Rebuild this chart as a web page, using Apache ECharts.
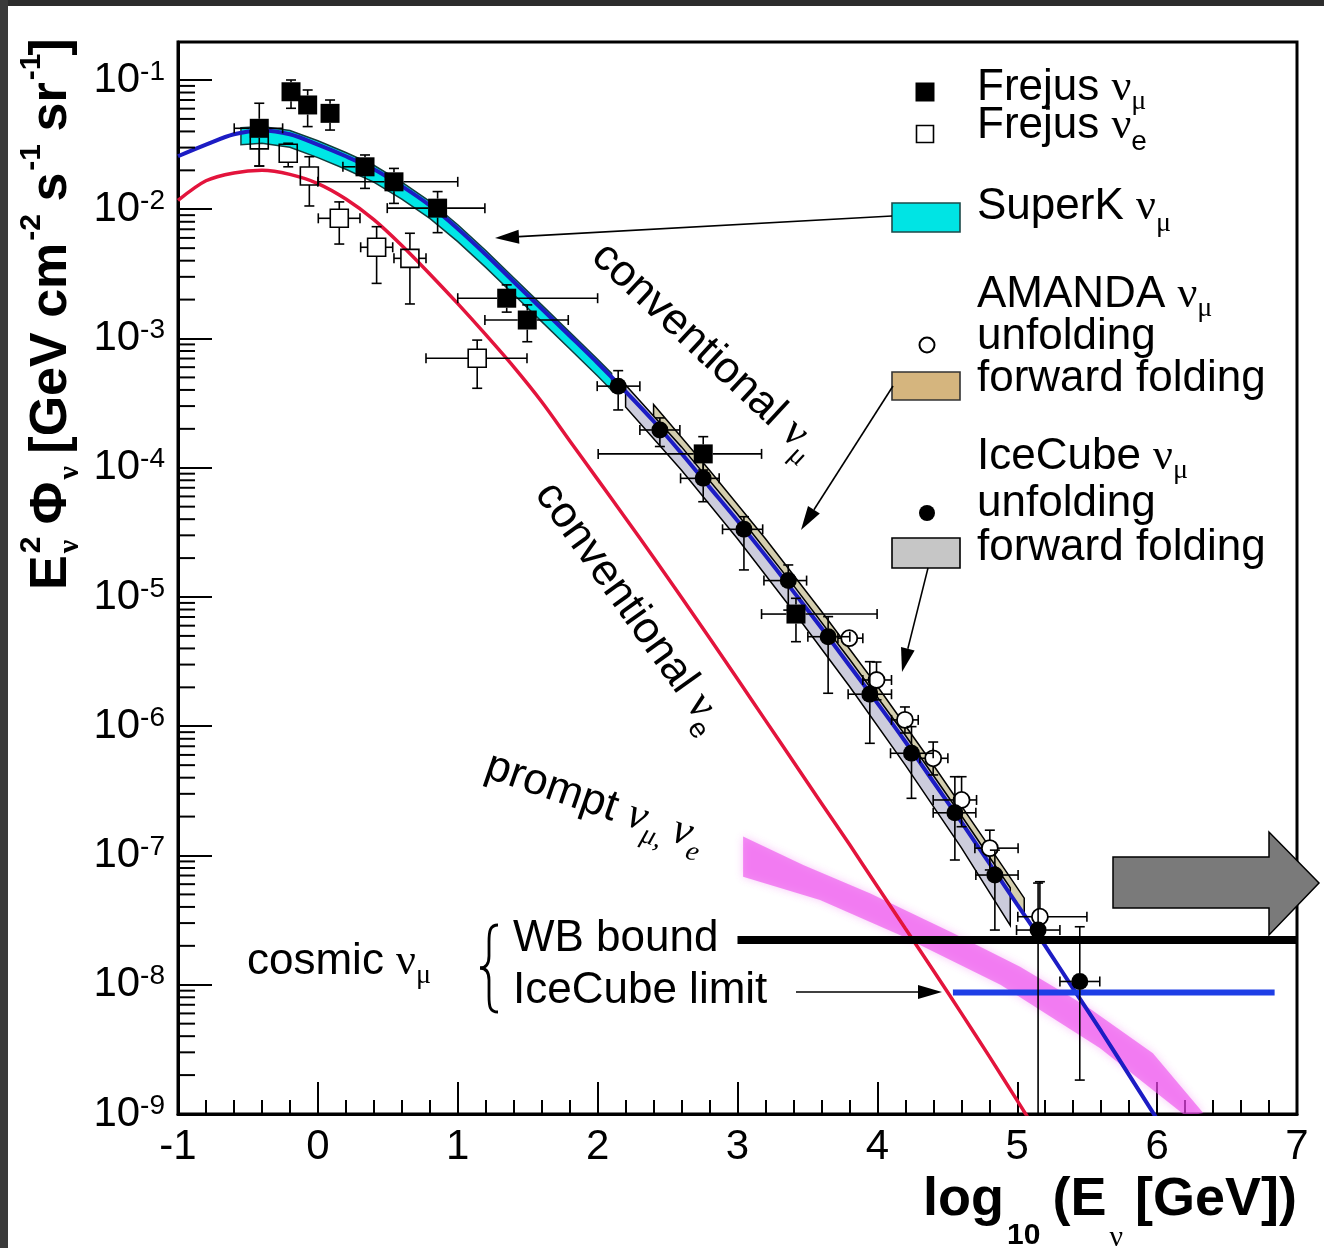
<!DOCTYPE html>
<html><head><meta charset="utf-8">
<script src="https://cdn.jsdelivr.net/npm/echarts@6/dist/echarts.min.js"></script>
<style>html,body{margin:0;padding:0;background:#fff}#c{width:1324px;height:1248px}</style>
</head><body><div id="c"></div>
<script>
// ================= DATA =================
// x = log10(E / GeV), flux = E^2 Phi [GeV cm^-2 s^-1 sr^-1]
const xTickValues = [-1, 0, 1, 2, 3, 4, 5, 6, 7];
const yTickExponents = [-9, -8, -7, -6, -5, -4, -3, -2, -1];

// conventional nu_mu (blue curve)
const convNumuX = [-1,-0.8,-0.6,-0.4,-0.2,0,0.2,0.4,0.6,0.8,1.0,1.2,1.4,1.6,1.8,2.0,2.2,2.4,2.6,2.8,3.0,3.2,3.4,3.6,3.8,4.0,4.2,4.4,4.6,4.8,5.0,5.2,5.4,5.6,5.8,6.0];
const convNumuFlux = [2.57e-2,3.16e-2,3.80e-2,4.07e-2,3.80e-2,3.16e-2,2.57e-2,2.04e-2,1.51e-2,1.07e-2,7.08e-3,4.47e-3,2.75e-3,1.70e-3,1.05e-3,6.46e-4,3.89e-4,2.29e-4,1.29e-4,7.08e-5,3.89e-5,2.09e-5,1.10e-5,5.75e-6,2.95e-6,1.51e-6,7.59e-7,3.72e-7,1.82e-7,8.71e-8,4.17e-8,2.00e-8,9.33e-9,4.37e-9,2.00e-9,9.12e-10];

// conventional nu_e (red curve)
const convNueX = [-1,-0.8,-0.6,-0.4,-0.2,0,0.2,0.4,0.6,0.8,1.0,1.2,1.4,1.6,1.8,2.0,2.2,2.4,2.6,2.8,3.0,3.2,3.4,3.6,3.8,4.0,4.2,4.4,4.6,4.8,5.0,5.2];
const convNueFlux = [1.17e-2,1.66e-2,1.91e-2,2.00e-2,1.86e-2,1.58e-2,1.20e-2,8.32e-3,5.25e-3,3.16e-3,1.86e-3,1.07e-3,6.03e-4,3.24e-4,1.62e-4,8.13e-5,4.07e-5,2.02e-5,9.89e-6,4.81e-6,2.32e-6,1.11e-6,5.31e-7,2.54e-7,1.22e-7,5.75e-8,2.72e-8,1.29e-8,6.03e-9,2.79e-9,1.27e-9,5.75e-10];

// SuperK nu_mu band
const superKX = [-0.55,-0.4,-0.2,0,0.2,0.4,0.6,0.8,1.0,1.2,1.4,1.6,1.8,2.0,2.1];
const superKHigh = [4.27e-2,4.37e-2,4.07e-2,3.39e-2,2.75e-2,2.19e-2,1.62e-2,1.15e-2,7.59e-3,4.79e-3,2.95e-3,1.82e-3,1.12e-3,6.92e-4,5.37e-4];
const superKLow  = [3.16e-2,3.24e-2,3.02e-2,2.51e-2,2.04e-2,1.62e-2,1.20e-2,8.51e-3,5.62e-3,3.55e-3,2.19e-3,1.35e-3,8.32e-4,5.13e-4,3.98e-4];

// AMANDA forward folding band
const amandaFFX = [2.4,2.8,3.2,3.6,4.0,4.4,4.8,5.05];
const amandaFFHigh = [3.09e-4,9.55e-5,2.82e-5,7.76e-6,2.04e-6,5.01e-7,1.17e-7,4.68e-8];
const amandaFFLow  = [2.29e-4,7.08e-5,2.09e-5,5.75e-6,1.51e-6,3.72e-7,8.71e-8,3.47e-8];

// IceCube forward folding band
const icecubeFFX = [2.2,2.6,3.0,3.4,3.8,4.2,4.6,4.95];
const icecubeFFHigh = [4.37e-4,1.45e-4,4.37e-5,1.23e-5,3.31e-6,8.51e-7,2.04e-7,5.62e-8];
const icecubeFFLow  = [2.95e-4,9.55e-5,2.82e-5,7.76e-6,2.04e-6,5.01e-7,1.15e-7,2.88e-8];

// prompt nu_mu, nu_e band
const promptHighX = [3.04,3.47,3.95,4.54,5.02,5.50,5.97,6.33];
const promptHighFlux = [1.40e-7,8.43e-8,5.09e-8,2.51e-8,1.38e-8,6.76e-9,2.95e-9,1.02e-9];
const promptLowX = [3.04,3.59,4.16,4.88,5.59,6.21];
const promptLowFlux = [6.86e-8,4.53e-8,2.43e-8,1.00e-8,3.24e-9,9.55e-10];

// cosmic nu_mu: WB bound and IceCube limit
const wbBoundX = [3.0, 7.0];
const wbBoundFlux = [2.22e-8, 2.22e-8];
const icLimitX = [4.54, 6.84];
const icLimitFlux = [8.7e-9, 8.7e-9];

// data points: [x, flux, xLow, xHigh, fluxLow, fluxHigh]
const frejusNumu = [
  [-0.419,4.23e-2,-0.598,-0.252,2.16e-2,6.61e-2],
  [-0.192,8.11e-2,-0.192,-0.192,6.04e-2,1.00e-1],
  [-0.073,6.41e-2,-0.073,-0.073,4.36e-2,8.37e-2],
  [0.087,5.52e-2,0.087,0.087,4.10e-2,7.00e-2],
  [0.337,2.13e-2,0.179,0.372,1.45e-2,2.63e-2],
  [0.544,1.63e-2,0.0,1.0,1.11e-2,2.07e-2],
  [0.856,1.02e-2,0.496,1.194,6.59e-3,1.37e-2],
  [1.350,2.05e-3,1.0,2.0,1.60e-3,2.60e-3],
  [1.497,1.39e-3,1.194,1.790,9.44e-4,1.82e-3],
  [2.755,1.28e-4,2.004,3.172,9.60e-5,1.74e-4],
  [3.418,7.38e-6,3.172,3.998,4.51e-6,9.77e-6]
];
const frejusNue = [
  [-0.419,3.44e-2,-0.419,-0.419,2.16e-2,4.26e-2],
  [-0.212,2.71e-2,-0.212,-0.212,2.13e-2,3.24e-2],
  [-0.061,1.81e-2,-0.061,-0.061,1.06e-2,2.55e-2],
  [0.153,8.51e-3,0.003,0.301,5.38e-3,1.14e-2],
  [0.420,5.08e-3,0.306,0.535,2.67e-3,7.33e-3],
  [0.658,4.17e-3,0.544,0.773,1.85e-3,6.52e-3],
  [1.139,7.03e-4,0.773,1.495,4.12e-4,9.72e-4]
];
const icecubeUnfolding = [
  [2.147,4.28e-4,1.997,2.302,2.80e-4,5.64e-4],
  [2.445,1.96e-4,2.302,2.588,1.46e-4,2.43e-4],
  [2.755,8.28e-5,2.593,2.869,5.46e-5,1.11e-4],
  [3.046,3.34e-5,2.893,3.180,1.62e-5,4.18e-5],
  [3.363,1.34e-5,3.189,3.494,7.92e-6,1.77e-5],
  [3.648,4.93e-6,3.503,3.803,1.80e-6,7.05e-6],
  [3.946,1.77e-6,3.791,4.101,7.38e-7,3.16e-6],
  [4.244,6.18e-7,4.094,4.399,2.77e-7,9.93e-7],
  [4.554,2.14e-7,4.399,4.704,9.23e-8,4.07e-7],
  [4.840,7.06e-8,4.704,5.006,2.65e-8,1.10e-7],
  [5.149,2.65e-8,4.995,5.305,1e-10,6.12e-8],
  [5.447,1.06e-8,5.305,5.590,1.83e-9,2.81e-8]
];
const amandaUnfolding = [
  [3.799,4.80e-6,3.718,3.896,4.18e-6,5.56e-6],
  [3.994,2.28e-6,3.896,4.101,1.60e-6,3.14e-6],
  [4.197,1.12e-6,4.101,4.292,8.87e-7,1.41e-6],
  [4.399,5.65e-7,4.304,4.504,4.20e-7,7.55e-7],
  [4.602,2.69e-7,4.399,4.709,1.67e-7,4.07e-7],
  [4.804,1.14e-7,4.697,5.006,7.73e-8,1.57e-7],
  [5.162,3.36e-8,5.004,5.498,2.65e-8,6.27e-8]
];

// ================= RENDERING =================
const SANS = "'Liberation Sans', Arial, Helvetica, sans-serif";
const SERIF = "'Liberation Serif', 'Times New Roman', serif";
const lg = Math.log10;
const Y_MIN = -9, Y_MAX = -0.706;

const chart = echarts.init(document.getElementById('c'), null, {renderer: 'canvas'});

function pairs(xs, ys) { return xs.map((x, i) => [x, lg(ys[i])]); }

function bandSeries(name, xh, yh, xl, yl, style, z) {
  return {
    type: 'custom', name, clip: true, silent: true, z,
    data: [[0, -5]],
    renderItem: (params, api) => {
      const pts = [];
      xh.forEach((x, i) => pts.push(api.coord([x, lg(yh[i])])));
      for (let i = xl.length - 1; i >= 0; i--) pts.push(api.coord([xl[i], lg(yl[i])]));
      return {type: 'polygon', shape: {points: pts}, style};
    }
  };
}

const markers = {
  fsq: {half: 9.5, shape: c => ({type: 'rect', shape: {x: c[0]-9.5, y: c[1]-9.5, width: 19, height: 19}, style: {fill: '#000'}})},
  osq: {half: 9, shape: c => ({type: 'rect', shape: {x: c[0]-9, y: c[1]-9, width: 18, height: 18}, style: {fill: 'none', stroke: '#000', lineWidth: 1.6}})},
  fci: {half: 8, shape: c => ({type: 'circle', shape: {cx: c[0], cy: c[1], r: 8.5}, style: {fill: '#000'}})},
  oci: {half: 8, shape: c => ({type: 'circle', shape: {cx: c[0], cy: c[1], r: 8}, style: {fill: '#fff', stroke: '#000', lineWidth: 1.8}})}
};

function pointSeries(name, rows, mk, z) {
  const m = markers[mk];
  return {
    type: 'custom', name, clip: true, silent: true, z,
    dimensions: ['x', 'y', 'xl', 'xh', 'yl', 'yh'],
    encode: {x: 'x', y: 'y'},
    data: rows.map(r => [r[0], lg(r[1]), r[2], r[3], lg(r[4]), lg(r[5])]),
    renderItem: (params, api) => {
      const x = api.value(0), y = api.value(1);
      const c = api.coord([x, y]);
      const l = api.coord([api.value(2), y]), h = api.coord([api.value(3), y]);
      const b = api.coord([x, api.value(4)]), t = api.coord([x, api.value(5)]);
      const half = m.half, cap = 5;
      const st = {stroke: '#000', lineWidth: 1.6};
      const ch = [];
      const seg = (x1, y1, x2, y2) => ch.push({type: 'line', shape: {x1, y1, x2, y2}, style: st});
      if (c[0] - l[0] > half + 1) { seg(l[0], c[1], c[0] - half, c[1]); seg(l[0], c[1] - cap, l[0], c[1] + cap); }
      if (h[0] - c[0] > half + 1) { seg(c[0] + half, c[1], h[0], c[1]); seg(h[0], c[1] - cap, h[0], c[1] + cap); }
      if (c[1] - t[1] > half + 1) { seg(c[0], t[1], c[0], c[1] - half); seg(c[0] - cap, t[1], c[0] + cap, t[1]); }
      if (b[1] - c[1] > half + 1) { seg(c[0], c[1] + half, c[0], b[1]); seg(c[0] - cap, b[1], c[0] + cap, b[1]); }
      ch.push(m.shape(c));
      return {type: 'group', children: ch};
    }
  };
}

// minor ticks of the logarithmic y axis (2..9 x 10^n)
const yMinor = [];
yTickExponents.forEach(n => { for (let k = 2; k <= 9; k++) { const v = lg(k) + n; if (v < Y_MAX) yMinor.push([-1, v]); } });

// ---------- text helpers ----------
const mctx = document.createElement('canvas').getContext('2d');
function fontStr(p) { return `${p.it ? 'italic' : 'normal'} ${p.b ? 'bold' : 'normal'} ${p.s}px ${p.f || SANS}`; }
function tw(t, f) { mctx.font = f; return mctx.measureText(t).width; }
function runText(pieces, x0, y0, rot, align) {
  let x = 0, lastX = 0, lastW = 0; const children = [];
  pieces.forEach(p => {
    const f = fontStr(p), w = tw(p.t, f);
    const px = p.stack ? lastX : x;
    children.push({type: 'text', x: px + (p.dx || 0), y: p.dy || 0,
      style: {text: p.t, font: f, fill: '#000', textAlign: 'left', textVerticalAlign: 'middle', align: 'left', verticalAlign: 'middle'}});
    if (p.stack) { x = lastX + Math.max(w, lastW); } else { lastX = x; lastW = w; x += w; }
  });
  const shift = align === 'right' ? -x : align === 'center' ? -x / 2 : 0;
  children.forEach(c => c.x += shift);
  return {type: 'group', x: x0, y: y0, rotation: rot || 0, z: 60, children};
}
function arrow(x1, y1, x2, y2, len, w) {
  len = len || 22; w = w || 7;
  const dx = x2 - x1, dy = y2 - y1, L = Math.hypot(dx, dy), ux = dx / L, uy = dy / L;
  const bx = x2 - ux * len, by = y2 - uy * len;
  return [
    {type: 'line', z: 60, shape: {x1, y1, x2: bx, y2: by}, style: {stroke: '#000', lineWidth: 1.6}},
    {type: 'polygon', z: 60, shape: {points: [[x2, y2], [bx - uy * w, by + ux * w], [bx + uy * w, by - ux * w]]}, style: {fill: '#000'}}
  ];
}
function bez(x1, y1, cpx1, cpy1, cpx2, cpy2, x2, y2) {
  return {type: 'bezierCurve', z: 60, shape: {x1, y1, cpx1, cpy1, cpx2, cpy2, x2, y2}, style: {fill: 'none', stroke: '#000', lineWidth: 2.8}};
}
function seg(x1, y1, x2, y2, lw) {
  return {type: 'line', z: 60, shape: {x1, y1, x2, y2}, style: {stroke: '#000', lineWidth: lw || 2.8}};
}
const deg = Math.PI / 180;
const LS = 44, SUB = 28;
const nu = {t: 'ν', s: LS, f: SERIF};
const subMu = {t: 'μ', s: SUB, f: SERIF, dy: 14};

const graphics = [
  // dark page edges
  {type: 'rect', z: 100, shape: {x: 0, y: 0, width: 1324, height: 6}, style: {fill: '#2c2c2c'}},
  {type: 'rect', z: 100, shape: {x: 0, y: 0, width: 8, height: 1248}, style: {fill: '#3a3a3a'}},

  // legend markers / boxes
  {type: 'rect', z: 60, shape: {x: 915.5, y: 82.5, width: 19, height: 19}, style: {fill: '#000'}},
  {type: 'rect', z: 60, shape: {x: 916.5, y: 125.5, width: 17, height: 17}, style: {fill: '#fff', stroke: '#000', lineWidth: 1.6}},
  {type: 'rect', z: 60, shape: {x: 892, y: 203, width: 68, height: 29}, style: {fill: '#00e4e4', stroke: '#1d4a4a', lineWidth: 1.6}},
  {type: 'circle', z: 60, shape: {cx: 927, cy: 345, r: 7.5}, style: {fill: '#fff', stroke: '#000', lineWidth: 2}},
  {type: 'rect', z: 60, shape: {x: 892, y: 372, width: 68, height: 28}, style: {fill: '#d5b57e', stroke: '#333', lineWidth: 1.6}},
  {type: 'circle', z: 60, shape: {cx: 927, cy: 513, r: 8}, style: {fill: '#000'}},
  {type: 'rect', z: 60, shape: {x: 892, y: 538, width: 68, height: 30}, style: {fill: '#c6c6c6', stroke: '#000', lineWidth: 1.6}},

  // legend texts
  runText([{t: 'Frejus ', s: LS}, nu, subMu], 977, 88),
  runText([{t: 'Frejus ', s: LS}, nu, {t: 'e', s: SUB, dy: 16}], 977, 126),
  runText([{t: 'SuperK ', s: LS}, nu, {t: 'μ', s: SUB, f: SERIF, dy: 17}], 977, 207),
  runText([{t: 'AMANDA ', s: LS}, nu, subMu], 977, 295),
  runText([{t: 'unfolding', s: LS}], 977, 337),
  runText([{t: 'forward folding', s: LS}], 977, 379),
  runText([{t: 'IceCube ', s: LS}, nu, subMu], 977, 457),
  runText([{t: 'unfolding', s: LS}], 977, 504),
  runText([{t: 'forward folding', s: LS}], 977, 548),

  // curve annotations
  runText([{t: 'conventional ', s: LS}, nu, {t: 'μ', s: SUB, f: SERIF, dy: 15}], 598, 250, -43 * deg),
  runText([{t: 'conventional ', s: LS}, nu, {t: 'e', s: SUB, dy: 16}], 544, 487, -54.5 * deg),
  runText([{t: 'prompt ', s: LS}, {t: 'ν', s: LS, f: SERIF, it: true}, {t: 'μ, ', s: SUB, f: SERIF, it: true, dy: 15},
           {t: 'ν', s: LS, f: SERIF, it: true}, {t: 'e', s: SUB, f: SERIF, it: true, dy: 16}], 487, 765, -19 * deg),

  // cosmic nu_mu block
  runText([{t: 'cosmic ', s: LS}, nu, subMu], 247, 962),
  bez(498, 925, 490, 925, 489, 931, 489, 942),
  seg(489, 942, 489, 956),
  bez(489, 956, 489, 964, 486, 968, 480, 968),
  bez(480, 968, 486, 968, 489, 972, 489, 980),
  seg(489, 980, 489, 996),
  bez(489, 996, 489, 1007, 490, 1012, 498, 1012),
  runText([{t: 'WB bound', s: LS}], 513, 939),
  runText([{t: 'IceCube limit', s: LS}], 513, 991),

  // big grey arrow
  {type: 'polygon', z: 60, shape: {points: [[1113, 857], [1269, 857], [1269, 832], [1319, 883], [1269, 935], [1269, 908], [1113, 908]]},
   style: {fill: '#7a7a7a', stroke: '#000', lineWidth: 1.5}},

  // axis titles
  runText([{t: 'log', s: 54, b: true}, {t: '10', s: 30, b: true, dy: 36, dx: 3}, {t: ' (E', s: 54, b: true},
           {t: 'ν', s: 30, f: SERIF, dy: 38, dx: 3}, {t: ' [GeV])', s: 54, b: true}], 1297, 1200, 0, 'right'),
  runText([{t: 'E', s: 52, b: true}, {t: '2', s: 30, b: true, dy: -20, dx: 2}, {t: 'ν', s: 30, f: SERIF, b: true, dy: 18, stack: true, dx: 2},
           {t: ' Φ', s: 52, b: true}, {t: 'ν', s: 30, f: SERIF, b: true, dy: 18, dx: 2},
           {t: ' [GeV cm', s: 52, b: true}, {t: '-2', s: 30, b: true, dy: -20, dx: 2},
           {t: ' s', s: 52, b: true}, {t: '-1', s: 30, b: true, dy: -20, dx: 2},
           {t: ' sr', s: 52, b: true}, {t: '-1', s: 30, b: true, dy: -20, dx: 2},
           {t: ']', s: 52, b: true}], 52, 590, Math.PI / 2)
].concat(
  arrow(892, 216, 495, 238, 24, 7),
  arrow(893, 386, 801, 530, 24, 7),
  arrow(928, 568, 902, 672, 24, 7),
  arrow(796, 992, 942, 992, 24, 7)
);

const option = {
  animation: false,
  backgroundColor: '#ffffff',
  grid: {left: 178, right: 27, top: 42, bottom: 134, show: true, borderColor: '#000', borderWidth: 3, backgroundColor: 'transparent'},
  xAxis: {
    type: 'value', min: xTickValues[0], max: xTickValues[xTickValues.length - 1], interval: 1,
    axisLine: {show: true, onZero: false, lineStyle: {color: '#000', width: 3}},
    axisTick: {show: true, inside: true, length: 32, lineStyle: {color: '#000', width: 2}},
    minorTick: {show: true, splitNumber: 5, length: 14, lineStyle: {color: '#000', width: 2}},
    axisLabel: {fontSize: 42, color: '#000', fontFamily: SANS, margin: 12},
    splitLine: {show: false}
  },
  yAxis: {
    type: 'value', min: Y_MIN, max: Y_MAX, interval: 1,
    axisLine: {show: true, onZero: false, lineStyle: {color: '#000', width: 3}},
    axisTick: {show: true, inside: true, length: 34, lineStyle: {color: '#000', width: 2}},
    axisLabel: {
      margin: 13, showMaxLabel: false,
      formatter: v => (Math.abs(v - Math.round(v)) < 1e-6 && yTickExponents.includes(Math.round(v))) ? '{b|10}{s|' + Math.round(v) + '}' : '',
      rich: {
        b: {fontSize: 42, fontFamily: SANS, color: '#000', lineHeight: 44},
        s: {fontSize: 28, fontFamily: SANS, color: '#000', lineHeight: 28, verticalAlign: 'top'}
      }
    },
    splitLine: {show: false}
  },
  series: [
    bandSeries('prompt', promptHighX, promptHighFlux, promptLowX, promptLowFlux,
      {fill: 'rgba(236, 72, 236, 0.6)', shadowBlur: 8, shadowColor: 'rgba(236, 72, 236, 0.5)'}, 2),
    bandSeries('SuperK', superKX, superKHigh, superKX, superKLow, {fill: '#00e6e6', stroke: '#123c3c', lineWidth: 1.5}, 3),
    bandSeries('AMANDA FF', amandaFFX, amandaFFHigh, amandaFFX, amandaFFLow, {fill: 'rgba(205, 198, 160, 0.85)', stroke: '#000', lineWidth: 1.5}, 4),
    bandSeries('IceCube FF', icecubeFFX, icecubeFFHigh, icecubeFFX, icecubeFFLow, {fill: 'rgba(198, 198, 216, 0.9)', stroke: '#000', lineWidth: 1.5}, 5),
    {type: 'line', name: 'conventional nu_e', data: pairs(convNueX, convNueFlux), smooth: 0.3, showSymbol: false, silent: true, z: 7,
     lineStyle: {color: '#e3143c', width: 3.5}},
    {type: 'line', name: 'conventional nu_mu', data: pairs(convNumuX, convNumuFlux), smooth: 0.3, showSymbol: false, silent: true, z: 8,
     lineStyle: {color: '#1c1cc4', width: 4}},
    {type: 'line', name: 'WB bound', data: pairs(wbBoundX, wbBoundFlux), showSymbol: false, silent: true, z: 9,
     lineStyle: {color: '#000', width: 8, cap: 'butt'}},
    {type: 'line', name: 'IceCube limit', data: pairs(icLimitX, icLimitFlux), showSymbol: false, silent: true, z: 9,
     lineStyle: {color: '#1e3ee6', width: 6, cap: 'butt'}},
    pointSeries('Frejus nu_e', frejusNue, 'osq', 20),
    pointSeries('Frejus nu_mu', frejusNumu, 'fsq', 21),
    pointSeries('AMANDA unfolding', amandaUnfolding, 'oci', 22),
    pointSeries('IceCube unfolding', icecubeUnfolding, 'fci', 23),
    {type: 'custom', name: 'y minor ticks', silent: true, z: 30, data: yMinor,
     renderItem: (params, api) => {
       const p = api.coord([api.value(0), api.value(1)]);
       return {type: 'line', shape: {x1: p[0], y1: p[1], x2: p[0] + 17, y2: p[1]}, style: {stroke: '#000', lineWidth: 2}};
     }}
  ],
  graphic: {elements: graphics}
};
chart.setOption(option);
</script>
</body></html>
